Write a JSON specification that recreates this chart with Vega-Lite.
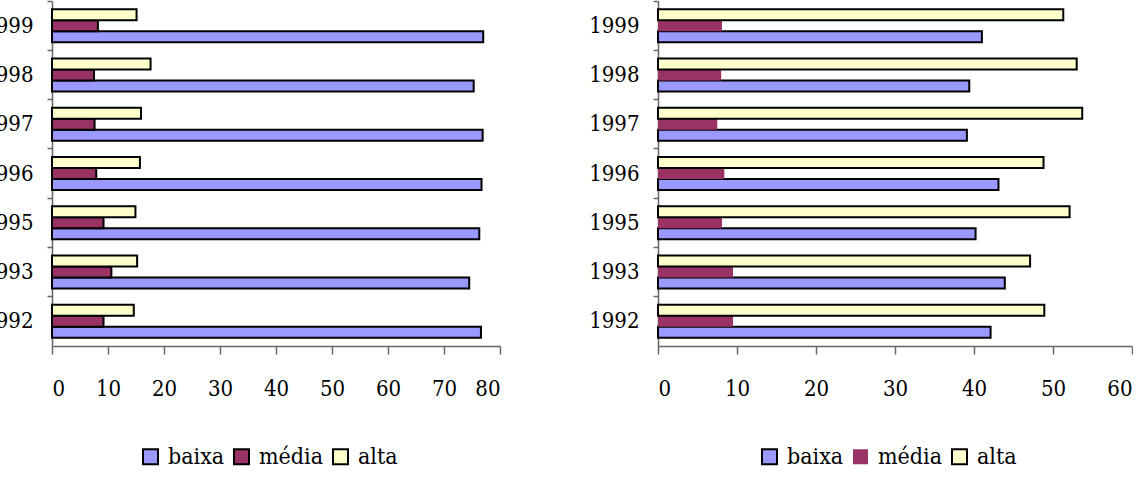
{
  "$schema": "https://vega.github.io/schema/vega-lite/v6.json",
  "padding": {"left": -18, "top": 0, "right": 0, "bottom": 0},
  "background": "white",
  "config": {
    "font": "DejaVu Serif Condensed",
    "view": {"stroke": null},
    "concat": {"spacing": 87},
    "axis": {"labelFont": "DejaVu Serif Condensed", "labelFontSize": 22, "labelColor": "black", "domainColor": "#666", "tickColor": "#666", "domainWidth": 1.5, "tickWidth": 1.5, "grid": false, "title": null},
    "legend": {"labelFont": "DejaVu Serif Condensed", "labelFontSize": 23, "labelColor": "black"}
  },
  "data": {"values": [
    {"painel": "A", "ano": "1999", "nivel": "baixa", "valor": 77.0},
    {"painel": "A", "ano": "1999", "nivel": "média", "valor": 8.2},
    {"painel": "A", "ano": "1999", "nivel": "alta", "valor": 15.1},
    {"painel": "A", "ano": "1998", "nivel": "baixa", "valor": 75.3},
    {"painel": "A", "ano": "1998", "nivel": "média", "valor": 7.5},
    {"painel": "A", "ano": "1998", "nivel": "alta", "valor": 17.6},
    {"painel": "A", "ano": "1997", "nivel": "baixa", "valor": 76.9},
    {"painel": "A", "ano": "1997", "nivel": "média", "valor": 7.6},
    {"painel": "A", "ano": "1997", "nivel": "alta", "valor": 15.9},
    {"painel": "A", "ano": "1996", "nivel": "baixa", "valor": 76.7},
    {"painel": "A", "ano": "1996", "nivel": "média", "valor": 7.9},
    {"painel": "A", "ano": "1996", "nivel": "alta", "valor": 15.7},
    {"painel": "A", "ano": "1995", "nivel": "baixa", "valor": 76.3},
    {"painel": "A", "ano": "1995", "nivel": "média", "valor": 9.2},
    {"painel": "A", "ano": "1995", "nivel": "alta", "valor": 14.9},
    {"painel": "A", "ano": "1993", "nivel": "baixa", "valor": 74.5},
    {"painel": "A", "ano": "1993", "nivel": "média", "valor": 10.6},
    {"painel": "A", "ano": "1993", "nivel": "alta", "valor": 15.2},
    {"painel": "A", "ano": "1992", "nivel": "baixa", "valor": 76.6},
    {"painel": "A", "ano": "1992", "nivel": "média", "valor": 9.2},
    {"painel": "A", "ano": "1992", "nivel": "alta", "valor": 14.6},
    {"painel": "B", "ano": "1999", "nivel": "baixa", "valor": 41.0},
    {"painel": "B", "ano": "1999", "nivel": "média", "valor": 8.1},
    {"painel": "B", "ano": "1999", "nivel": "alta", "valor": 51.3},
    {"painel": "B", "ano": "1998", "nivel": "baixa", "valor": 39.4},
    {"painel": "B", "ano": "1998", "nivel": "média", "valor": 8.0},
    {"painel": "B", "ano": "1998", "nivel": "alta", "valor": 53.0},
    {"painel": "B", "ano": "1997", "nivel": "baixa", "valor": 39.1},
    {"painel": "B", "ano": "1997", "nivel": "média", "valor": 7.5},
    {"painel": "B", "ano": "1997", "nivel": "alta", "valor": 53.7},
    {"painel": "B", "ano": "1996", "nivel": "baixa", "valor": 43.1},
    {"painel": "B", "ano": "1996", "nivel": "média", "valor": 8.4},
    {"painel": "B", "ano": "1996", "nivel": "alta", "valor": 48.8},
    {"painel": "B", "ano": "1995", "nivel": "baixa", "valor": 40.2},
    {"painel": "B", "ano": "1995", "nivel": "média", "valor": 8.1},
    {"painel": "B", "ano": "1995", "nivel": "alta", "valor": 52.1},
    {"painel": "B", "ano": "1993", "nivel": "baixa", "valor": 43.9},
    {"painel": "B", "ano": "1993", "nivel": "média", "valor": 9.5},
    {"painel": "B", "ano": "1993", "nivel": "alta", "valor": 47.1},
    {"painel": "B", "ano": "1992", "nivel": "baixa", "valor": 42.1},
    {"painel": "B", "ano": "1992", "nivel": "média", "valor": 9.5},
    {"painel": "B", "ano": "1992", "nivel": "alta", "valor": 48.9}
  ]},
  "hconcat": [
    {
      "width": 448,
      "height": 345,
      "transform": [{"filter": "datum.painel === 'A'"}],
      "mark": {"type": "bar", "stroke": "black", "strokeWidth": 2},
      "encoding": {
        "y": {"field": "ano", "type": "nominal", "sort": "descending", "scale": {"paddingInner": 0, "paddingOuter": 0}, "axis": {"bandPosition": 0, "tickSize": 5, "labelPadding": 14, "labelAngle": 0}},
        "yOffset": {"field": "nivel", "type": "nominal", "sort": ["alta", "média", "baixa"], "scale": {"paddingInner": 0, "paddingOuter": 0.74}},
        "x": {"field": "valor", "type": "quantitative", "scale": {"domain": [0, 80], "nice": false}, "axis": {"values": [0, 10, 20, 30, 40, 50, 60, 70, 80], "tickSize": 8, "labelPadding": 24}},
        "color": {"field": "nivel", "type": "nominal", "scale": {"domain": ["baixa", "média", "alta"], "range": ["#9999FF", "#993366", "#FFFFCC"]},
          "legend": {"title": null, "orient": "none", "legendX": 87, "legendY": 444, "direction": "horizontal", "symbolType": "square", "symbolSize": 225, "symbolStrokeColor": "black", "symbolStrokeWidth": 2, "labelOffset": 6, "columnPadding": 5}}
      }
    },
    {
      "width": 474,
      "height": 345,
      "transform": [{"filter": "datum.painel === 'B'"}],
      "mark": {"type": "bar", "stroke": "black"},
      "encoding": {
        "y": {"field": "ano", "type": "nominal", "sort": "descending", "scale": {"paddingInner": 0, "paddingOuter": 0}, "axis": {"bandPosition": 0, "tickSize": 5, "labelPadding": 14, "labelAngle": 0}},
        "yOffset": {"field": "nivel", "type": "nominal", "sort": ["alta", "média", "baixa"], "scale": {"paddingInner": 0, "paddingOuter": 0.74}},
        "x": {"field": "valor", "type": "quantitative", "scale": {"domain": [0, 60], "nice": false}, "axis": {"values": [0, 10, 20, 30, 40, 50, 60], "tickSize": 8, "labelPadding": 24}},
        "strokeWidth": {"condition": {"test": "datum.nivel === 'média'", "value": 0}, "value": 2},
        "color": {"field": "nivel", "type": "nominal", "scale": {"domain": ["baixa", "média", "alta"], "range": ["#9999FF", "#993366", "#FFFFCC"]},
          "legend": {"title": null, "orient": "none", "legendX": 100, "legendY": 444, "direction": "horizontal", "symbolType": "square", "symbolSize": 225, "symbolStrokeColor": "black", "symbolStrokeWidth": 2, "labelOffset": 6, "columnPadding": 5,
            "encode": {"symbols": {"update": {"strokeWidth": {"signal": "datum.value === 'média' ? 0 : 2"}}}}}}
      }
    }
  ],
  "resolve": {"scale": {"x": "independent", "y": "independent", "color": "independent", "yOffset": "independent"}, "legend": {"color": "independent"}}
}
